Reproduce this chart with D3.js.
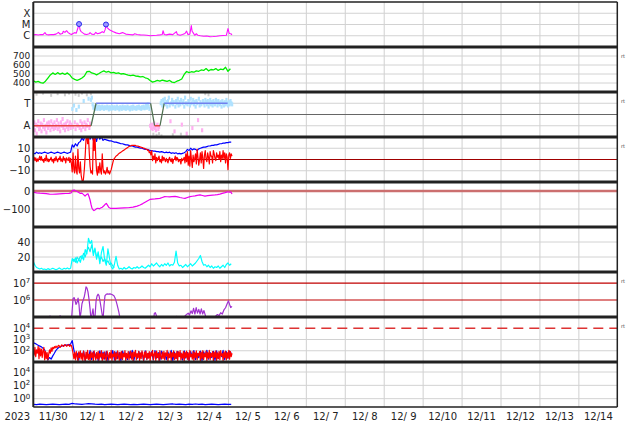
<!DOCTYPE html>
<html><head><meta charset="utf-8">
<script src="https://cdn.jsdelivr.net/npm/d3@7"></script>
<style>
html,body{margin:0;padding:0;background:#fff;}
svg{display:block;font-family:"DejaVu Sans",sans-serif;}
text{white-space:pre;}
</style></head><body>
<svg id="c" width="634" height="424"></svg>
<script>
// ---------- DATA (time in hours from 2023-11-30 00:00 UTC) ----------
const dayLabels = ["11/30","12/ 1","12/ 2","12/ 3","12/ 4","12/ 5","12/ 6","12/ 7","12/ 8","12/ 9","12/10","12/11","12/12","12/13","12/14"];
const yearLabel = "2023";

const xrayData = [[0,1.2e-6],[1.5,1.3e-6],[3,1.15e-6],[4.5,1.3e-6],[6,1.25e-6],[7.2,1.9e-6],[8,1.3e-6],[9.5,1.2e-6],[11,1.3e-6],[12.5,1.25e-6],[14,1.4e-6],[15.5,2.0e-6],[16.5,1.4e-6],[18,1.6e-6],[18.5,2.5e-6],[19.5,2.0e-6],[20.5,2.8e-6],[21.5,1.9e-6],[22.5,1.5e-6],[23.5,1.3e-6],[24.5,1.6e-6],[25.5,1.9e-6],[26.5,1.7e-6],[27.3,4e-6],[28.2,1.1e-5],[28.8,3.5e-6],[29.5,2.3e-6],[30.5,1.8e-6],[31.5,1.4e-6],[33,1.3e-6],[34.5,1.5e-6],[35,1.9e-6],[36,1.4e-6],[37.5,1.3e-6],[38.5,2.0e-6],[39.5,1.5e-6],[41,1.7e-6],[42.5,2.3e-6],[43.5,1.9e-6],[44.3,3.5e-6],[44.8,1.0e-5],[45.5,5.3e-6],[46.5,3.8e-6],[47.5,3.1e-6],[49,2.4e-6],[51,1.8e-6],[53,1.5e-6],[55,1.9e-6],[57,1.4e-6],[59,1.3e-6],[61.5,1.2e-6],[62.5,1.5e-6],[64,1.3e-6],[66,1.2e-6],[68,1.15e-6],[70,1.1e-6],[72,1.0e-6],[74,1.05e-6],[76,1.1e-6],[78,1.2e-6],[79.5,1.3e-6],[80,2.8e-6],[80.7,1.3e-6],[82,1.2e-6],[84,1.4e-6],[86,1.25e-6],[88.2,2.3e-6],[88.8,1.3e-6],[90.5,1.1e-6],[92,1.3e-6],[93.5,1.6e-6],[94.5,2.6e-6],[95.3,1.3e-6],[96.5,1.4e-6],[97.4,8e-6],[97.9,2.5e-6],[98.5,1.9e-6],[99.5,1.1e-6],[100.5,1.5e-6],[101.5,1.1e-6],[103,1.0e-6],[105,9e-7],[107,9.5e-7],[109,8.2e-7],[111,8.5e-7],[113,9e-7],[115,1.0e-6],[117,1.05e-6],[119,1.1e-6],[120,4.3e-6],[120.8,1.6e-6],[121.8,1.5e-6],[122.5,1.2e-6]];
const flareT = [28.2, 44.8];
const flareV = [1.1e-5, 1.0e-5];

const speedStart = 0, speedStep = 1.5;
const speedVals = [425,410,418,405,398,420,455,490,512,495,515,498,510,495,512,490,455,440,430,440,455,478,525,530,512,505,490,505,522,535,520,528,512,518,508,512,500,505,495,488,482,488,478,475,468,472,458,450,428,410,418,428,420,432,425,418,428,410,405,420,430,445,495,528,515,525,520,535,530,545,540,560,535,550,545,560,540,555,548,575,530,558];

const sectorLine = [[0,-1],[35.6,-1],[38.7,1],[72.3,1],[74.8,-1],[78.1,-1],[80.7,1],[119.8,1]];
const phiStart = 0, phiStep = 0.5;
const phiVals = [
-1.1,-0.7,-1.4,-0.9,-1.7,-1.0,-0.6,-1.3,-1.2,-0.8,
-1.5,-0.9,-1.1,-0.5,-1.3,-1.0,-1.6,-0.8,-1.2,-0.7,
-1.0,-1.4,-0.6,-1.1,-0.9,-1.3,-0.7,-1.2,-1.0,-0.5,
-1.3,-0.8,-1.1,-1.5,-0.7,-1.0,-0.4,-1.2,-0.9,-1.4,
-0.8,-1.1,-0.6,-1.3,-1.0,-0.7,-1.2,-0.9,0.5,-1.1,
0.8,-0.7,-1.3,0.4,-0.9,-1.0,0.7,-1.2,-0.6,-1.4,
-0.8,-1.1,1.2,-0.7,-1.3,-0.9,-1.0,-0.5,1.4,-1.2,
-0.8,1.3,1.5,0.9,0.6,0.7,0.5,0.6,0.75,0.5,
0.6,0.7,0.5,0.65,0.55,0.7,0.6,0.5,0.65,0.6,
0.55,0.7,0.6,0.45,0.65,0.6,0.5,0.7,0.55,0.6,
0.65,0.5,0.6,0.7,0.55,0.6,0.45,0.65,0.6,0.5,
0.7,0.6,0.55,0.65,0.5,0.6,0.7,0.55,0.6,0.45,
0.6,0.65,0.5,0.7,0.6,0.55,0.6,0.5,0.65,0.6,
0.7,0.55,0.6,0.5,0.65,0.6,0.7,0.55,0.6,0.8,
0.6,0.9,0.7,0.5,-1.0,-1.2,-0.9,-1.3,-1.1,-0.8,
-1.2,-1.4,-1.0,-0.9,-1.3,-1.1,null,1.0,1.2,0.8,
1.3,1.0,1.4,0.9,1.1,0.7,1.2,1.5,0.8,-0.6,
1.0,1.3,0.9,1.1,-1.5,0.7,1.2,1.0,1.4,0.8,
1.1,0.9,1.3,-0.9,1.0,1.2,0.7,1.5,1.0,-1.7,
0.9,1.2,1.1,0.8,1.4,1.0,-1.2,1.3,0.9,1.1,
0.7,1.2,1.0,-0.5,1.4,0.8,1.1,0.9,-1.4,1.2,
1.0,0.8,1.3,1.1,0.9,1.2,0.7,1.0,1.3,0.9,
1.1,0.8,1.2,1.0,0.9,1.3,1.1,0.8,1.2,1.0,
0.9,1.1,0.7,1.2,1.0,0.8,1.1,0.9,1.3,1.0,
0.8,1.1,0.9,1.2,1.0,0.9];
const phiGrey = [[2,1.8],[6,1.9],[11,1.7],[15,1.85],[19.5,1.75],[22,1.9],[26,1.8],[28,1.7],[30,1.9],[33,1.75],[35.5,1.85],[74,-1.75],[76,-1.85],[77.5,-1.7],[79,-1.9],[86,-1.8],[91,-1.75],[106,1.85],[108,1.75]];

const btStart = 0, btStep = 1;
const btVals = [6,5,6.5,5.5,6,5.5,6,6.5,6,5.5,6,6.5,6,5.5,6,6.5,6,5.5,6,6.5,6,5.5,6,6.5,13,11,14,12,15,16,19,17,22,19,24,18,22,17,21,16,23,18,20,17,18,17.5,17,16.5,16.5,16,15.5,15.5,15,14.5,14,14,13.5,13,13,12.5,12,12,11.5,11,11,10.5,10,10,9.5,9,9,8.5,8,8,7.5,7.5,7,7,6.5,7,6.5,6,6.5,6,6.5,5.5,6,5.5,6,5,5.5,5,5.5,6,7,9,8,10,8.5,9.5,9,8,9.5,10,10.5,11,11,11.5,12,12,12.5,12.5,13,13,13.5,14,14,14.5,14.5,15,15,15.5,15.5];
const bzStart = 0, bzStep = 0.5;
const bzVals = [
0,2,-1,1.5,-2,0.5,-1.5,1,3,-0.5,
2.5,-1,0,-2.5,1,-1,4,-1.5,0.5,-2,
-1,0.5,2,-1.5,0,-3,1,-1,2.5,-0.5,
-2,1,0,3,-1.5,0.5,-2,2.5,-0.5,1,
-3,1.5,0,-1,2,-2.5,1,-4,-11,6,
-9,-12,3,-10,-13,9,-8,-12,-2,-14,
-18,-22,-16,-8,4,18,22,14,21,6,
-6,-12,-10,-13,20,8,22,2,-10,-14,
-6,-12,-3,-10,-13,5,-8,-12,-10,-13,
-11,-7,-12,-10,-13,-11,-9,-6,-3,0,
1,2,3,3.5,4,5,5.5,6,6.5,7,
7.5,8,8.5,9,9.5,10,10.5,11,11.5,12,
12,12.5,12.5,12.5,12.5,12.5,12.5,12,12,12,
11.5,11.5,11,11,10.5,10.5,10,10,9.5,9,
9,8,8.5,6,7,4,8,-1,3,0,
5,-3,2,-1,1,3,-2,0,-3,3,
-1,2,0,-2,1,-1,-3,0,2,-1,
-2,1,-3.5,0,0,3,-1,2,1,-2,
0,-1,-4,1,-1,0,2,-3,5,-2,
7,-5,3,-6,8,0,-7,4,-2,1,
5,-4,9,2,-5,0,6,-3,7,1,
-8,4,8,0,-2,6,2,-4,7,3,
3,-3,8,5,1,-1,6,2,4,0,
7,-2,4,1,8,1,6,-3,5,2,
-9,4,6,1,5,3];

const dstData = [[0,-7],[2,-10],[4,-12],[6,-13],[8,-15],[10,-17],[12,-18],[14,-17],[16,-16],[18,-15],[20,-14],[22,-13],[23.3,-10],[24.3,3],[25.3,5],[26.5,-1],[27.6,-6],[28.8,-13],[30,-12],[31,-20],[31.9,-28],[32.8,-20],[33.7,-15],[34.4,-32],[35,-50],[35.6,-75],[36.2,-96],[36.8,-104],[37.4,-109],[38.2,-104],[39,-98],[39.9,-96],[40.7,-99],[41.5,-95],[42.5,-90],[43.5,-82],[44.3,-74],[45,-69],[45.8,-80],[46.6,-92],[47.5,-96],[49,-97],[51,-96],[53.4,-95],[56,-94],[58.5,-93],[61.5,-90],[64,-84],[65.8,-78],[67.5,-70],[68.9,-62],[70.5,-54],[71.9,-47],[73.5,-45],[75,-44],[76.5,-42],[78,-41],[79.5,-36],[81,-31],[82.5,-32],[84,-33],[85.5,-31],[87.4,-30],[89,-33],[90.4,-36],[92,-39],[93.5,-41],[95,-36],[96.6,-31],[98,-29],[99.7,-27],[101,-24],[102.8,-22],[104.3,-25],[105.8,-28],[107.5,-26],[109,-24],[110.5,-23],[112,-22],[113.5,-20],[115,-17],[116.5,-13],[118.2,-9],[119.2,-6],[120,-4],[121,-7],[121.7,-5],[122.5,-17]];

const cyanStart = 0, cyanStep = 1;
const cyanVals = [14,9,6,5,4,5,3.5,4,3,4.5,3.5,4,5,4,3,4,5.5,4,3.5,5,4,5.5,4,5,18,14,19,12,17,13,22,16,30,24,45,38,42,22,32,17,27,11,26,34,16,9,31,18,7,4,10,21,9,4,5,3.5,6,4,5,7,5,4,6,5,7,5,6,8,6,5,7,9,7,11,8,10,12,9,7,10,8,11,9,12,8,10,9,13,28,12,8,9,6,8,10,7,9,11,8,10,12,15,18,22,14,9,10,7,9,6,8,5,7,6,8,5,7,9,6,10,12,9,11];
const cyan2Start = 24, cyan2Step = 1;
const cyan2Vals = [15,17,13,20,16,21,18,25,20,28,33,27,36,25,30,20,24,16,20,14,18,12,15,10,12,8,6];

const elecData = [[0,2e4],[9.6,2e4],[10.3,1.15e5],[11,2e4],[16,2e4],[16.5,1.2e5],[17,2e4],[23.2,2e4],[23.8,1.5e5],[24.5,1.2e6],[25.1,1.4e6],[25.7,1.0e6],[26.3,5.5e5],[26.9,7e5],[27.6,1.3e6],[28.2,5e5],[28.8,8e4],[29.4,2e5],[30,6e5],[30.6,9e5],[31.3,1.4e6],[31.9,2.6e6],[32.5,6e6],[33.1,5e6],[33.7,3e6],[34.3,1.2e6],[35,3e5],[35.6,6e4],[36.2,1.5e5],[36.8,3e5],[37.4,8e4],[38,9e4],[38.7,9e5],[39.3,1.7e6],[39.9,2.2e6],[40.5,1.8e6],[41.1,9e5],[41.7,4e5],[42.4,1.5e5],[43,7e4],[43.6,5e5],[44.2,1.8e6],[44.8,2.1e6],[45.4,2.3e6],[46.3,2.2e6],[47.3,2.3e6],[48.5,2.1e6],[49.7,1.8e6],[50.4,1.3e6],[51,9e5],[51.6,5.5e5],[52.2,3.2e5],[52.8,1.8e5],[53.4,9e4],[54,5e4],[74,5e4],[74.6,1.6e5],[75.2,1.8e5],[75.8,1.3e5],[76.5,5e4],[87.6,5e4],[88.2,1.1e5],[88.8,5e4],[93,5e4],[93.6,1.2e5],[94.5,1.4e5],[95.5,1.7e5],[96.3,1.3e5],[97.2,2.3e5],[98,1.6e5],[98.8,3.2e5],[99.6,1.5e5],[100.4,3.6e5],[101.2,1.7e5],[102,2.8e5],[102.8,1.5e5],[103.6,3e5],[104.4,1.5e5],[105.2,2.4e5],[106,1.3e5],[106.8,6e4],[112,5e4],[112.6,1.2e5],[113.5,1.4e5],[114.5,1.2e5],[115.5,1.8e5],[116.5,1.5e5],[117.5,2.6e5],[118.5,3.5e5],[119.5,6e5],[120.3,9e5],[121,5.5e5],[121.7,3.6e5],[122.5,4.2e5]];

const protRedStart = 0, protRedStep = 0.5;
const protRedVals = [
150,40,200,30,120,60,250,20,180,35,
140,25,100,200,15,90,20,70,15,50,
120,60,180,90,200,150,230,180,260,200,
220,300,280,200,250,330,300,240,270,350,
320,250,280,360,300,240,340,280,150,60,
20,70,15,90,30,12,80,25,100,18,
60,14,95,30,12,75,20,110,16,50,
13,85,25,65,12,100,35,15,70,20,
90,14,55,28,105,12,60,18,80,25,
13,95,40,15,70,22,110,14,50,30,
85,12,65,18,100,35,14,75,20,90,
16,55,28,105,13,60,22,85,15,45,
95,18,70,12,80,30,110,15,55,24,
90,13,65,20,100,38,14,75,26,95,
16,60,22,85,12,70,35,110,15,50,
80,14,95,25,60,13,105,30,18,75,
20,90,15,65,35,110,12,55,24,85,
14,70,28,100,16,60,20,90,13,80,
32,105,15,55,22,85,12,75,26,95,
17,65,13,110,30,50,18,90,14,70,
24,100,15,60,35,85,12,75,20,105,
16,55,28,95,13,70,22,110,15,60,
30,85,12,75,25,100,14,65,20,90,
16,105,35,55,13,80,24,95,15,70,
22,110,18,85,30,60];
const protBlueStart = 0, protBlueStep = 1;
const protBlueVals = [500,450,380,300,260,220,170,120,50,15,25,18,35,60,110,160,210,240,280,310,300,330,320,400,800,120,30,60,15,80,25,95,14,70,20,110,16,85,30,65,13,100,22,75,18,90,14,60,28,105,15,80,20,70,13,95,35,55,16,85,24,110,14,65,20,90,30,75,13,100,18,60,25,85,15,105,22,70,14,95,35,60,16,80,25,110,13,75,20,90,30,65,15,100,22,70,14,85,28,105,16,60,24,95,13,80,35,110,18,70,25,90,14,100,20,75,30,110,16,85,22,95,60];

const p9Start = 0, p9Step = 2;
const p9Vals = [0.14,0.13,0.15,0.14,0.13,0.14,0.15,0.14,0.13,0.14,0.15,0.14,0.2,0.16,0.15,0.14,0.16,0.18,0.17,0.15,0.14,0.15,0.13,0.14,0.15,0.14,0.13,0.14,0.15,0.14,0.13,0.14,0.13,0.14,0.15,0.14,0.13,0.14,0.15,0.14,0.13,0.14,0.15,0.16,0.14,0.15,0.14,0.13,0.15,0.14,0.16,0.14,0.15,0.13,0.14,0.15,0.14,0.13,0.14,0.15,0.14,0.14];

// ---------- LAYOUT ----------
const L = 33.3, R = 617.3, TOP = 2, PH = 45, NP = 9;
const BOTTOM = TOP + NP * PH;
const t0 = Date.UTC(2023, 10, 30);
const toDate = h => new Date(t0 + h * 3600000);
const pt = i => TOP + i * PH;
const stepSeries = (s, st, vals) => vals.map((v, i) => [s + i * st, v]);

const svg = d3.select("#c");
const defs = svg.append("defs");
for (let i = 0; i < NP; i++) {
  defs.append("clipPath").attr("id", "cp" + i).append("rect")
    .attr("x", L).attr("y", pt(i)).attr("width", R - L).attr("height", PH);
}
const x = d3.scaleUtc().domain([toDate(0), toDate(360)]).range([L, R]);

const ys = [
  d3.scaleLog().domain([1e-7, 1e-3]).range([pt(1), pt(0)]),
  d3.scaleLinear().domain([300, 800]).range([pt(2), pt(1)]),
  d3.scaleLinear().domain([-2, 2]).range([pt(3), pt(2)]),
  d3.scaleLinear().domain([-20, 20]).range([pt(4), pt(3)]),
  d3.scaleLinear().domain([-200, 50]).range([pt(5), pt(4)]),
  d3.scaleLinear().domain([0, 60]).range([pt(6), pt(5)]),
  d3.scaleLog().domain([1e5, Math.pow(10, 7.65)]).range([pt(7), pt(6)]),
  d3.scaleLog().domain([10, 1e5]).range([pt(8), pt(7)]),
  d3.scaleLog().domain([Math.pow(10, -1.25), Math.pow(10, 5.5)]).range([pt(9), pt(8)])
];

// vertical day grid
const vg = svg.append("g").attr("transform", `translate(0,${BOTTOM})`)
  .call(d3.axisBottom(x).tickValues(d3.range(1, 15).map(d => toDate(d * 24))).tickSize(-(BOTTOM - TOP)).tickFormat(""));
vg.select(".domain").remove();
vg.selectAll("line").attr("stroke", "#d0d0d0").attr("stroke-width", 1);

// horizontal grids
const gridVals = [[1e-6, 1e-5, 1e-4], [400, 500, 600, 700], [1, -1], [10, -10], [-100], [20, 40], [], [100, 1000], [1, 100, 1e4]];
gridVals.forEach((vals, i) => {
  svg.append("g").selectAll("line").data(vals).join("line")
    .attr("x1", L).attr("x2", R).attr("y1", d => ys[i](d)).attr("y2", d => ys[i](d))
    .attr("stroke", "#d2d2d2").attr("stroke-width", 1);
});
const hline = (i, v, color, w, dash) => {
  const l = svg.append("line").attr("x1", L).attr("x2", R).attr("y1", ys[i](v)).attr("y2", ys[i](v))
    .attr("stroke", color).attr("stroke-width", w);
  if (dash) l.attr("stroke-dasharray", dash);
};
hline(2, 0, "#666", 1.2);
hline(3, 0, "#a00000", 1.2);
hline(4, 0, "#cc6f6f", 2.5);
hline(6, 1e6, "#c00000", 1.2);
hline(6, 1e7, "#c00000", 1.2);
hline(7, 1e4, "#dd3333", 1.5, "10,6");

const lineOf = i => d3.line().defined(d => d[1] != null).x(d => x(toDate(d[0]))).y(d => ys[i](d[1]));
const drawLine = (i, data, color, w) => {
  svg.append("path").attr("clip-path", `url(#cp${i})`).datum(data)
    .attr("d", lineOf(i)).attr("fill", "none").attr("stroke", color)
    .attr("stroke-width", w || 1.2).attr("stroke-linejoin", "round");
};

// panel 0 xray
drawLine(0, xrayData, "#ff10ff", 1.1);
svg.append("g").selectAll("circle").data(flareT).join("circle")
  .attr("cx", d => x(toDate(d))).attr("cy", (d, k) => ys[0](flareV[k])).attr("r", 2.5)
  .attr("fill", "#9a9aff").attr("stroke", "#2a2aee").attr("stroke-width", 1);

// panel 1 speed
drawLine(1, stepSeries(speedStart, speedStep, speedVals), "#00ee00", 1.3);

// panel 2 sector
const phi = stepSeries(phiStart, phiStep, phiVals).filter(d => d[1] != null);
const sg = svg.append("g").attr("clip-path", "url(#cp2)");
sg.selectAll("rect.g").data(phiGrey).join("rect").attr("class", "g")
  .attr("x", d => x(toDate(d[0])) - 1).attr("y", d => ys[2](d[1]) - 1.5).attr("width", 2).attr("height", 3).attr("fill", "#cfcfcf");
sg.selectAll("rect.p").data(phi).join("rect").attr("class", "p")
  .attr("x", d => x(toDate(d[0])) - 1).attr("y", d => ys[2](d[1]) - 2).attr("width", 2.2).attr("height", 4)
  .attr("fill", d => d[1] < 0 ? "#ffb0f0" : "#b0e2ff");
for (let k = 0; k < sectorLine.length - 1; k++) {
  const a = sectorLine[k], b = sectorLine[k + 1];
  const col = a[1] === b[1] ? (a[1] > 0 ? "#7080ee" : "#e84444") : "#4e7050";
  sg.append("path").datum([a, b]).attr("d", lineOf(2)).attr("fill", "none").attr("stroke", col).attr("stroke-width", 1.3);
}

// panel 3 IMF
drawLine(3, stepSeries(btStart, btStep, btVals), "#0000ff", 1.2);
drawLine(3, stepSeries(bzStart, bzStep, bzVals), "#ff0000", 1.2);

// panel 4 Dst
drawLine(4, dstData, "#ee00ee", 1.2);

// panel 5 cyan
drawLine(5, stepSeries(cyan2Start, cyan2Step, cyan2Vals), "#11eeee", 1.1);
drawLine(5, stepSeries(cyanStart, cyanStep, cyanVals), "#00ffff", 1.2);

// panel 6 electrons
drawLine(6, elecData, "#a030d0", 1.2);

// panel 7 protons
drawLine(7, stepSeries(protBlueStart, protBlueStep, protBlueVals), "#0000ff", 1.2);
drawLine(7, stepSeries(protRedStart, protRedStep, protRedVals), "#ff0000", 1.2);

// panel 8
drawLine(8, stepSeries(p9Start, p9Step, p9Vals), "#0000ff", 1.2);

// y labels
const fmtSup = sel => sel.each(function (d) {
  const e = Math.round(Math.log10(d));
  const t = d3.select(this).text("10");
  t.append("tspan").attr("dy", "-0.55em").attr("font-size", "7px").text(e);
});
const labelDefs = [
  { v: [1e-4, 1e-5, 1e-6], f: d => ({ "-4": "X", "-5": "M", "-6": "C" })[Math.round(Math.log10(d))], fs: 10 },
  { v: [700, 600, 500, 400], f: d => String(d), fs: 9 },
  { v: [1, -1], f: d => d > 0 ? "T" : "A", fs: 10 },
  { v: [10, 0, -10], f: d => d < 0 ? "\u2212" + Math.abs(d) : String(d), fs: 10 },
  { v: [0, -100], f: d => d < 0 ? "\u2212" + Math.abs(d) : String(d), fs: 10 },
  { v: [40, 20], f: d => String(d), fs: 10 },
  { v: [1e7, 1e6], sup: true, fs: 10 },
  { v: [1e4, 1e3, 1e2], sup: true, fs: 10 },
  { v: [1e4, 1e2, 1], sup: true, fs: 10 }
];
labelDefs.forEach((ld, i) => {
  const ax = d3.axisLeft(ys[i]).tickValues(ld.v).tickSize(0).tickPadding(3)
    .tickFormat(ld.sup ? () => "10" : ld.f);
  const g = svg.append("g").attr("transform", `translate(${L},0)`).call(ax);
  g.select(".domain").remove();
  g.selectAll("text").attr("font-size", ld.fs + "px").attr("fill", "#222").attr("font-family", "DejaVu Sans");
  if (ld.sup) fmtSup(g.selectAll(".tick text"));
});

// right-side small labels
[1, 2, 3, 6, 7].forEach(i => {
  svg.append("text").attr("x", 621).attr("y", pt(i) + 11).attr("font-size", "5px").attr("fill", "#444").text("rt");
});

// x axis labels (centered in each day)
const xa = svg.append("g").attr("transform", `translate(0,${BOTTOM})`)
  .call(d3.axisBottom(x).tickValues(dayLabels.map((d, k) => toDate(k * 24 + 12))).tickSize(0).tickPadding(6)
    .tickFormat((d, k) => dayLabels[k]));
xa.select(".domain").remove();
xa.selectAll("text").attr("font-size", "10px").attr("fill", "#222").attr("font-family", "DejaVu Sans");
svg.append("text").attr("x", 30).attr("y", 420).attr("text-anchor", "end").attr("font-size", "10px").attr("fill", "#222").text(yearLabel);

// separators and frame
for (let i = 1; i < NP; i++) {
  svg.append("line").attr("x1", L).attr("x2", R).attr("y1", pt(i)).attr("y2", pt(i)).attr("stroke", "#222").attr("stroke-width", 3);
}
svg.append("line").attr("x1", L).attr("x2", R).attr("y1", TOP).attr("y2", TOP).attr("stroke", "#222").attr("stroke-width", 1.5);
svg.append("line").attr("x1", L).attr("x2", R).attr("y1", BOTTOM).attr("y2", BOTTOM).attr("stroke", "#222").attr("stroke-width", 1.5);
svg.append("line").attr("x1", L).attr("x2", L).attr("y1", TOP).attr("y2", BOTTOM).attr("stroke", "#222").attr("stroke-width", 2);
svg.append("line").attr("x1", R).attr("x2", R).attr("y1", TOP).attr("y2", BOTTOM).attr("stroke", "#222").attr("stroke-width", 1.5);
</script>
</body></html>
